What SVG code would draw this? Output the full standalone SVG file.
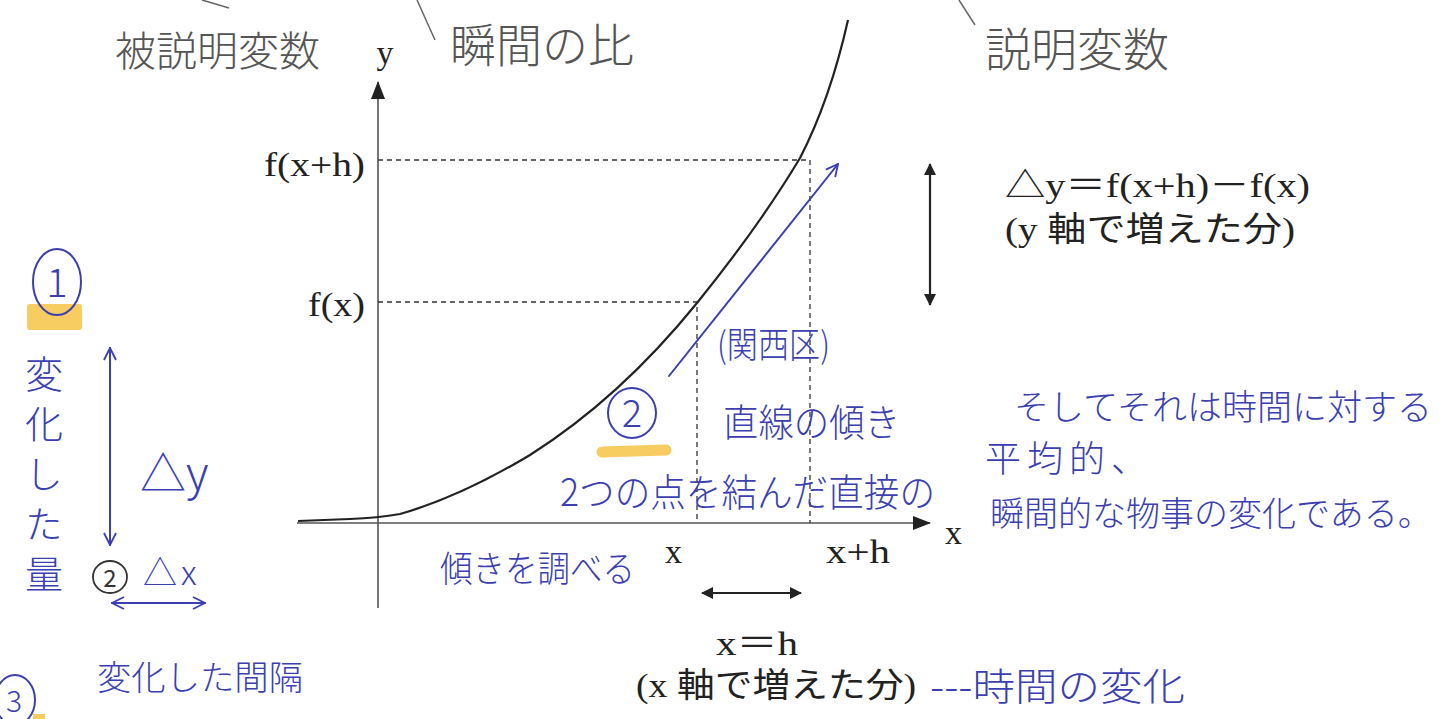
<svg xmlns="http://www.w3.org/2000/svg" width="1455" height="719" viewBox="0 0 1455 719">
<style>
.pr{font-family:"Liberation Serif","Noto Sans CJK JP",serif;fill:#222;font-size:34px}
.hw{font-family:"Noto Sans CJK JP",sans-serif;fill:#3b3fb0;font-weight:300}
.pc{font-family:"Noto Sans CJK JP",sans-serif;fill:#555;font-weight:300}
.dash{stroke:#333;stroke-width:1.3;stroke-dasharray:5 4;fill:none}
.ax{stroke:#555;stroke-width:1.6;fill:none}
.blk{stroke:#222;stroke-width:2.2;fill:none}
.bl{stroke:#3b3fb0;stroke-width:2;fill:none;stroke-linecap:round}
.hl{fill:#f6c445;opacity:0.85}
</style>
<defs>
<marker id="tri" viewBox="0 0 12 12" refX="11" refY="6" markerWidth="12" markerHeight="12" markerUnits="userSpaceOnUse" orient="auto-start-reverse">
<path d="M0,0 L12,6 L0,12 Z" fill="#222"/>
</marker>
<marker id="axtri" viewBox="0 0 18 14" refX="17" refY="7" markerWidth="18" markerHeight="14" markerUnits="userSpaceOnUse" orient="auto">
<path d="M0,0 L18,7 L0,14 Z" fill="#222"/>
</marker>
<marker id="open" viewBox="0 0 14 14" refX="13" refY="7" markerWidth="14" markerHeight="14" markerUnits="userSpaceOnUse" orient="auto-start-reverse">
<path d="M1,1 L13,7 L1,13" fill="none" stroke="#3b3fb0" stroke-width="1.8"/>
</marker>
</defs>
<rect width="1455" height="719" fill="#ffffff"/>

<g id="highlights">
<rect class="hl" x="27" y="304" width="55" height="26" rx="3"/>
<path d="M602,452 L666,450" stroke="#f6c445" stroke-width="11" stroke-linecap="round" opacity="0.85"/>
<rect class="hl" x="33" y="714" width="12" height="5"/>
</g>

<g id="axes">
<line class="ax" x1="378" y1="608" x2="378" y2="82" marker-end="url(#axtri)"/>
<line class="ax" x1="297" y1="523" x2="930" y2="523" marker-end="url(#axtri)"/>
<text class="pr" x="385" y="64" text-anchor="middle">y</text>
<text class="pr" x="945" y="544">x</text>
</g>

<g id="guides">
<polyline class="dash" points="378,160 810,160 810,523"/>
<polyline class="dash" points="378,302 697,302 697,523"/>
</g>

<g id="curve">
<path class="blk" d="M298,521 L350,519 Q378,518 400,514 Q460,497 530,455 Q620,398 697,303 Q760,225 800,158 Q830,100 848,20"/>
</g>

<g id="labels">
<text class="pr" x="264" y="176" font-size="37" textLength="101" lengthAdjust="spacingAndGlyphs">f(x+h)</text>
<text class="pr" x="308" y="316" font-size="37" textLength="57" lengthAdjust="spacingAndGlyphs">f(x)</text>
<text class="pr" x="665" y="563">x</text>
<text class="pr" x="826" y="563" textLength="64" lengthAdjust="spacingAndGlyphs">x+h</text>
<text class="pr" x="716" y="655" textLength="82" lengthAdjust="spacingAndGlyphs">x＝h</text>
<text class="pr" x="636" y="697" textLength="280" lengthAdjust="spacingAndGlyphs">(x 軸で増えた分)</text>
<text class="pr" x="1005" y="197" font-size="35" textLength="305" lengthAdjust="spacingAndGlyphs">△y＝f(x+h)－f(x)</text>
<text class="pr" x="1005" y="241" font-size="35" textLength="290" lengthAdjust="spacingAndGlyphs">(y 軸で増えた分)</text>
</g>

<g id="connectors">
<line class="blk" x1="702" y1="593" x2="801" y2="593" stroke-width="2.4" marker-start="url(#tri)" marker-end="url(#tri)"/>
<line class="blk" x1="930" y1="164" x2="930" y2="305" stroke-width="2" marker-start="url(#tri)" marker-end="url(#tri)"/>
<line class="bl" x1="669" y1="376" x2="838" y2="164" marker-end="url(#open)"/>
<line class="bl" x1="110" y1="348" x2="110" y2="545" marker-start="url(#open)" marker-end="url(#open)"/>
<line class="bl" x1="112" y1="603" x2="205" y2="603" marker-start="url(#open)" marker-end="url(#open)"/>
</g>

<g id="pencil">
<line x1="202" y1="0" x2="229" y2="8" stroke="#666" stroke-width="1.5"/>
<line x1="417" y1="0" x2="435" y2="40" stroke="#666" stroke-width="1.5"/>
<line x1="959" y1="0" x2="975" y2="25" stroke="#666" stroke-width="1.5"/>
<text class="pc" x="115" y="66" font-size="41">被説明変数</text>
<text class="pc" x="450" y="62" font-size="46">瞬間の比</text>
<text class="pc" x="985" y="66" font-size="46">説明変数</text>
</g>

<g id="note-left">
<ellipse cx="57" cy="282" rx="24" ry="33" class="bl"/>
<text class="hw" x="57" y="297" font-size="40" text-anchor="middle">1</text>
<text class="hw" x="44" y="355" font-size="38" writing-mode="vertical-rl" letter-spacing="12">変化した量</text>
<text class="hw" x="140" y="490" font-size="46">△y</text>
<ellipse cx="110" cy="577" rx="17" ry="16" fill="none" stroke="#333" stroke-width="1.8"/>
<text x="110" y="587" font-size="24" text-anchor="middle" font-family="Noto Sans CJK JP, sans-serif" fill="#333">2</text>
<text class="hw" x="143" y="585" font-size="34" letter-spacing="4">△x</text>
<text class="hw" x="97" y="690" font-size="34" textLength="206" lengthAdjust="spacingAndGlyphs">変化した間隔</text>
<ellipse cx="15" cy="700" rx="20" ry="25" class="bl"/>
<text class="hw" x="14" y="712" font-size="30" text-anchor="middle">3</text>
</g>

<g id="note-middle">
<ellipse cx="632" cy="413" rx="24" ry="25" class="bl"/>
<text class="hw" x="632" y="427" font-size="38" text-anchor="middle">2</text>
<text class="hw" x="717" y="358" font-size="36" textLength="113" lengthAdjust="spacingAndGlyphs">(関西区)</text>
<text class="hw" x="723" y="436" font-size="38" textLength="177" lengthAdjust="spacingAndGlyphs">直線の傾き</text>
<text class="hw" x="560" y="506" font-size="38" textLength="375" lengthAdjust="spacingAndGlyphs">2つの点を結んだ直接の</text>
<text class="hw" x="440" y="582" font-size="36" textLength="195" lengthAdjust="spacingAndGlyphs">傾きを調べる</text>
</g>

<g id="note-right">
<text class="hw" x="1014" y="420" font-size="35">そしてそれは時間に対する</text>
<text class="hw" x="985" y="472" font-size="36" letter-spacing="6">平均的、</text>
<text class="hw" x="990" y="526" font-size="34">瞬間的な物事の変化である。</text>
</g>

<g id="note-bottom">
<text class="hw" x="930" y="700" font-size="38" textLength="255" lengthAdjust="spacingAndGlyphs">---時間の変化</text>
</g>
</svg>
